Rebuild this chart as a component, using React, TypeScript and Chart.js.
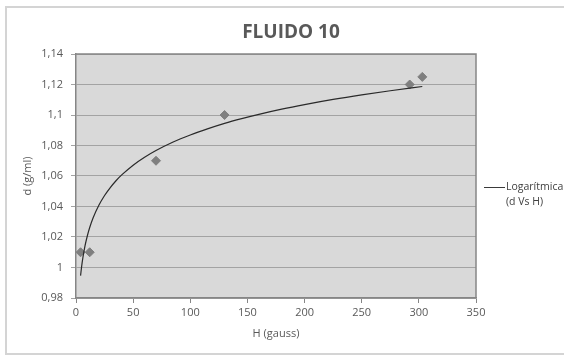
import React, { useEffect, useRef } from "react";
import { Chart, registerables } from "chart.js";

Chart.register(...registerables);

const TITLE = "FLUIDO 10";
const X_LABEL = "H (gauss)";
const Y_LABEL = "d (g/ml)";
const LEGEND_LINES = ["Logarítmica", "(d Vs H)"];

// measured points
const H_VALUES = [4, 12, 70, 130, 292, 303];
const D_VALUES = [1.01, 1.01, 1.07, 1.1, 1.12, 1.125];

// logarithmic trendline
const TREND_H = [4, 5, 6, 8, 10, 12, 15, 20, 25, 30, 35, 40, 50, 60, 70, 85, 100, 115, 130, 145, 160, 180, 200, 225, 250, 275, 303];
const TREND_D = [0.9947, 1.0011, 1.0063, 1.0146, 1.021, 1.0262, 1.0326, 1.0408, 1.0472, 1.0524, 1.0569, 1.0607, 1.0671, 1.0723, 1.0767, 1.0823, 1.0869, 1.0909, 1.0945, 1.0976, 1.1004, 1.1038, 1.1068, 1.1102, 1.1132, 1.1159, 1.1187];

const X_MIN = 0;
const X_MAX = 350;
const X_STEP = 50;
const Y_MIN = 0.98;
const Y_MAX = 1.14;
const Y_STEP = 0.02;

const FONT = "'Open Sans', 'Liberation Sans', sans-serif";

export default function App() {
  const ref = useRef<HTMLCanvasElement | null>(null);

  useEffect(() => {
    const canvas = ref.current;
    if (!canvas) return;

    const decor = {
      id: "decor",
      beforeDraw(chart: any) {
        const { ctx, chartArea } = chart;
        ctx.save();
        ctx.fillStyle = "#ffffff";
        ctx.fillRect(0, 0, chart.width, chart.height);
        // outer frame
        ctx.strokeStyle = "#d4d4d4";
        ctx.lineWidth = 2;
        ctx.strokeRect(6, 7, chart.width + 10, 347);
        // plot background
        ctx.fillStyle = "#d9d9d9";
        ctx.fillRect(chartArea.left, chartArea.top, chartArea.right - chartArea.left, chartArea.bottom - chartArea.top);
        ctx.restore();
      },
      afterDraw(chart: any) {
        const { ctx, chartArea } = chart;
        ctx.save();
        ctx.strokeStyle = "#868686";
        ctx.lineWidth = 1.5;
        ctx.beginPath();
        ctx.moveTo(chartArea.left, chartArea.top);
        ctx.lineTo(chartArea.right, chartArea.top);
        ctx.lineTo(chartArea.right, chartArea.bottom);
        ctx.stroke();
        // title
        ctx.fillStyle = "#595959";
        ctx.font = `bold 19px ${FONT}`;
        ctx.textAlign = "center";
        ctx.textBaseline = "middle";
        ctx.fillText(TITLE, 291, 33);
        // legend
        ctx.strokeStyle = "#3a3a3a";
        ctx.lineWidth = 1;
        ctx.beginPath();
        ctx.moveTo(484, 187.5);
        ctx.lineTo(505, 187.5);
        ctx.stroke();
        ctx.fillStyle = "#404040";
        ctx.font = `10.5px ${FONT}`;
        ctx.textAlign = "left";
        LEGEND_LINES.forEach((t, i) => ctx.fillText(t, 506, 187 + i * 15));
        ctx.restore();
      },
    };

    const fmt = (v: number) => String(Number(v.toFixed(2))).replace(".", ",");

    const chart = new Chart(canvas, {
      type: "scatter",
      data: {
        datasets: [
          {
            label: "d",
            data: H_VALUES.map((h, i) => ({ x: h, y: D_VALUES[i] })),
            pointStyle: "rectRot",
            pointRadius: 4.5,
            backgroundColor: "#7f7f7f",
            borderColor: "#7f7f7f",
            showLine: false,
            order: 1,
          },
          {
            label: "Logarítmica (d Vs H)",
            data: TREND_H.map((h, i) => ({ x: h, y: TREND_D[i] })),
            showLine: true,
            pointRadius: 0,
            borderColor: "#2a2a2a",
            borderWidth: 1.2,
            tension: 0.4,
            cubicInterpolationMode: "monotone",
            order: 0,
          } as any,
        ],
      },
      options: {
        responsive: false,
        animation: false,
        layout: { padding: { top: 54, right: 88, left: 0, bottom: 0 } },
        plugins: {
          legend: { display: false },
          title: { display: false },
          tooltip: { enabled: false },
        },
        scales: {
          x: {
            type: "linear",
            min: X_MIN,
            max: X_MAX,
            afterFit: (s: any) => { s.height = 59; },
            ticks: { stepSize: X_STEP, color: "#595959", font: { family: FONT, size: 11 }, padding: 3 },
            grid: { drawOnChartArea: false, drawTicks: true, tickLength: 5, color: "#868686" },
            border: { color: "#868686", width: 1.5 },
            title: { display: true, text: X_LABEL, color: "#595959", font: { family: FONT, size: 11 }, padding: { top: 0, bottom: 17 } },
          },
          y: {
            type: "linear",
            min: Y_MIN,
            max: Y_MAX,
            afterFit: (s: any) => { s.width = 76; },
            ticks: { stepSize: Y_STEP, color: "#595959", font: { family: FONT, size: 11 }, padding: 8, callback: (v: any) => fmt(Number(v)) },
            grid: { color: "#a3a3a3", tickLength: 5, lineWidth: 1 },
            border: { color: "#868686", width: 1.5 },
            title: { display: true, text: Y_LABEL, color: "#595959", font: { family: FONT, size: 11 }, padding: { top: 21, bottom: 0 } },
          },
        },
      } as any,
      plugins: [decor],
    });

    return () => chart.destroy();
  }, []);

  return (
    <div style={{ position: "fixed", left: 0, top: 0, width: 564, height: 357, background: "#fff" }}>
      <canvas ref={ref} width={564} height={357} />
    </div>
  );
}
